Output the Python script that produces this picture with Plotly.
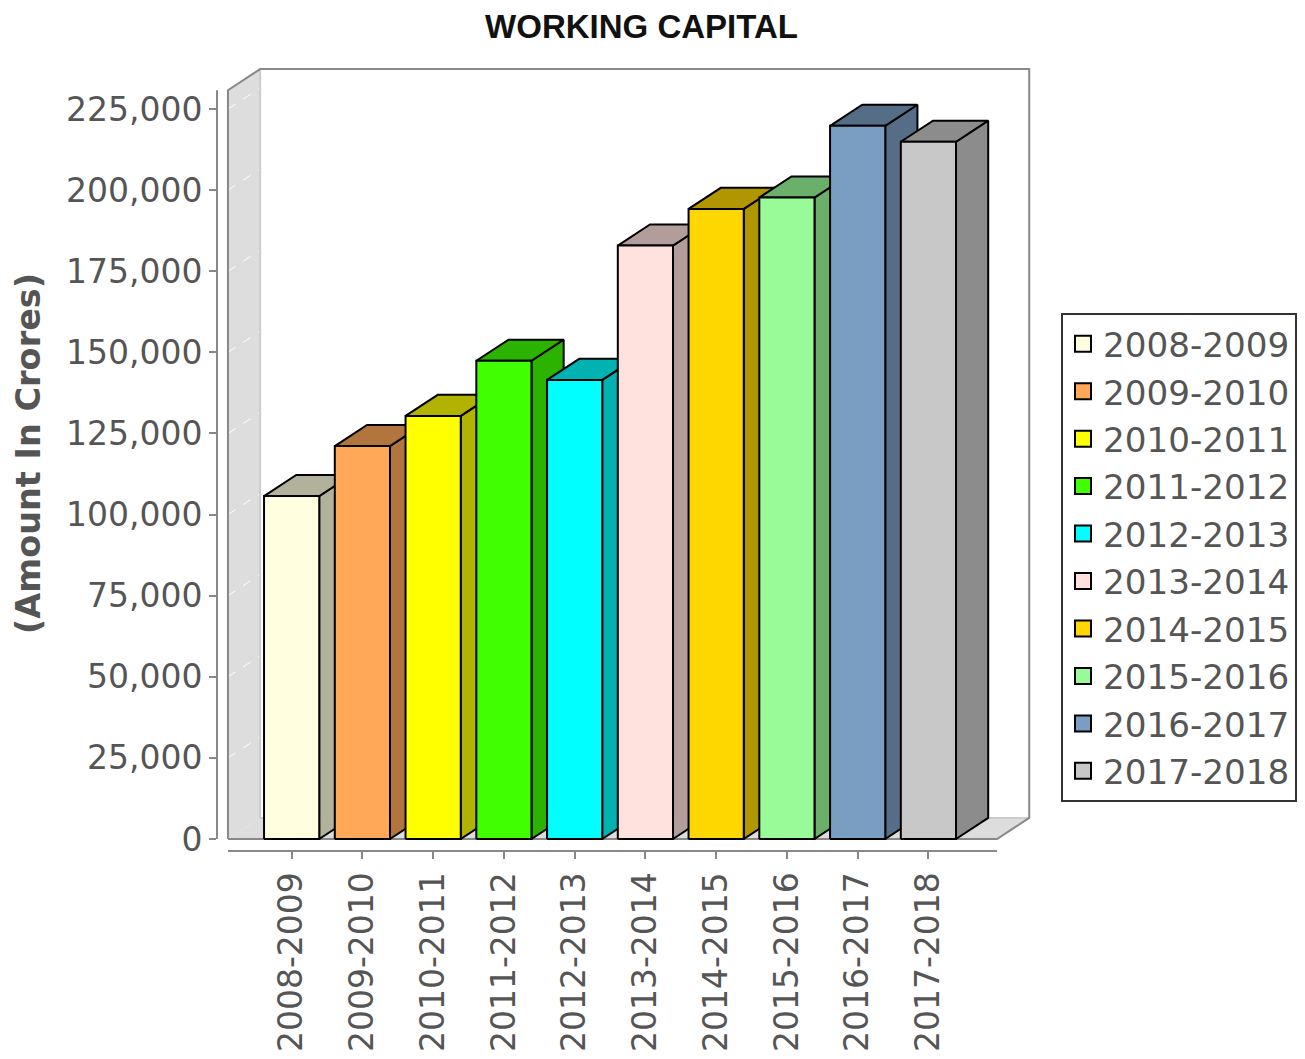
import plotly.graph_objects as go

years = ["2008-2009", "2009-2010", "2010-2011", "2011-2012", "2012-2013",
         "2013-2014", "2014-2015", "2015-2016", "2016-2017", "2017-2018"]
working_capital = [105700, 121100, 130400, 147400, 141500,
                   182900, 194200, 197700, 219800, 214900]
bar_colors = ["#FFFFE0", "#FFA858", "#FFFF00", "#40FF00", "#00FFFF",
              "#FFE1DE", "#FFD700", "#98FB98", "#7A9DC2", "#C8C8C8"]
y_ticks = list(range(0, 225001, 25000))

# 3D geometry, in axis units
HALF = 0.39        # half width of a bar front face
DX = 0.455         # depth offset along x
DY = 6500          # depth offset along y
WALL_L = -0.9
WALL_R = 9.97
WALL_TOP = 230800

FONT = "DejaVu Sans"
GRAY = "#555555"

# page body has an 8px margin, so the figure is 8px smaller than the window
W, H = 1297, 1051


def darker(hex_color, f=0.7):
    h = hex_color.lstrip("#")
    r, g, b = (int(h[k:k + 2], 16) for k in (0, 2, 4))
    return "rgb(%d,%d,%d)" % (int(r * f), int(g * f), int(b * f))


def poly(xs, ys, fill, line_color="black", width=2):
    return go.Scatter(x=xs, y=ys, mode="lines", fill="toself", fillcolor=fill,
                      line=dict(color=line_color, width=width),
                      hoverinfo="skip", showlegend=False)


fig = go.Figure()

# left wall and floor
fig.add_trace(poly([WALL_L, WALL_L + DX, WALL_L + DX, WALL_L, WALL_L],
                   [0, DY, WALL_TOP + DY, WALL_TOP, 0], "#DDDDDD", width=0))
fig.add_trace(poly([WALL_L, WALL_R, WALL_R + DX, WALL_L + DX, WALL_L],
                   [0, 0, DY, DY, 0], "#DDDDDD", width=0))

# faint gridlines on the wall
gx, gy = [], []
for v in y_ticks[1:]:
    gx += [WALL_L, WALL_L + DX, None]
    gy += [v, v + DY, None]
fig.add_trace(go.Scatter(x=gx, y=gy, mode="lines", hoverinfo="skip", showlegend=False,
                         line=dict(color="white", width=1, dash="dash")))

# inner edges
fig.add_trace(go.Scatter(x=[WALL_L + DX, WALL_L + DX, WALL_R + DX],
                         y=[WALL_TOP + DY, DY, DY], mode="lines", hoverinfo="skip",
                         showlegend=False, line=dict(color="#CCCCCC", width=2)))

# plot outline
fig.add_trace(go.Scatter(
    x=[WALL_L, WALL_L, WALL_L + DX, WALL_R + DX, WALL_R + DX, WALL_R, WALL_L],
    y=[0, WALL_TOP, WALL_TOP + DY, WALL_TOP + DY, DY, 0, 0],
    mode="lines", hoverinfo="skip", showlegend=False,
    line=dict(color="#888888", width=2)))

# bars: side, top, front
for i, (v, c) in enumerate(zip(working_capital, bar_colors)):
    x0, x1 = i - HALF, i + HALF
    dk = darker(c)
    fig.add_trace(poly([x1, x1 + DX, x1 + DX, x1, x1], [0, DY, v + DY, v, 0], dk))
    fig.add_trace(poly([x0, x1, x1 + DX, x0 + DX, x0], [v, v, v + DY, v + DY, v], dk))
    fig.add_trace(poly([x0, x1, x1, x0, x0], [0, 0, v, v, 0], c))

# legend entries
for name, c in zip(years, bar_colors):
    fig.add_trace(go.Scatter(x=[None], y=[None], mode="markers", name=name,
                             marker=dict(symbol="square", size=16, color=c,
                                         line=dict(color="black", width=2))))

fig.update_layout(
    width=W, height=H,
    margin=dict(l=209, r=274, t=59, b=208),
    paper_bgcolor="white", plot_bgcolor="white",
    title=dict(text="<b>WORKING CAPITAL</b>", x=(641.5 - 8) / W, y=1 - 18 / H,
               xref="container", yref="container", xanchor="center", yanchor="middle",
               font=dict(family="Liberation Sans", size=33, color="#111111")),
    xaxis=dict(range=[-1.055, 10.45], tickvals=list(range(len(years))), ticktext=years,
               tickangle=-90, showgrid=False, zeroline=False, showline=False,
               automargin=False,
               ticks="outside", ticklen=7, tickwidth=2, tickcolor="#888888",
               tickfont=dict(family=FONT, size=33, color=GRAY)),
    yaxis=dict(range=[-3699, 237945], tickvals=y_ticks, tickformat=",",
               showgrid=False, zeroline=False, showline=False,
               automargin=False,
               ticks="outside", ticklen=7, tickwidth=2, tickcolor="#888888",
               tickfont=dict(family=FONT, size=33, color=GRAY)),
    legend=dict(xref="container", yref="container",
                x=(1061 - 8) / W, y=1 - (313 - 8) / H, xanchor="left", yanchor="top",
                bordercolor="#333333", borderwidth=2, bgcolor="white",
                font=dict(family=FONT, size=34.2, color=GRAY)),
    shapes=[
        dict(type="line", xref="paper", yref="y", x0=0, x1=0, y0=0, y1=WALL_TOP,
             line=dict(color="#888888", width=2)),
        dict(type="line", xref="x", yref="paper", x0=WALL_L, x1=WALL_R, y0=0, y1=0,
             line=dict(color="#888888", width=2)),
    ],
    annotations=[
        dict(text="<b>(Amount In Crores)</b>", textangle=-90, showarrow=False,
             xref="paper", yref="paper", x=(28 - 217) / 814, y=(851 - 454) / 784,
             xanchor="center", yanchor="middle",
             font=dict(family=FONT, size=33.5, color=GRAY)),
    ],
)

fig.write_html("out.html")
